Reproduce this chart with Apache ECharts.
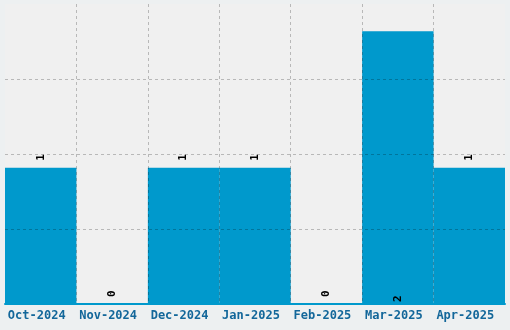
<!DOCTYPE html>
<html><head><meta charset="utf-8">
<script src="https://cdn.jsdelivr.net/npm/echarts@6/dist/echarts.min.js"></script>
<style>html,body{margin:0;padding:0;background:#edf0f1}#c{width:510px;height:330px}</style>
</head><body><div id="c"></div>
<script>
const categories = ["Oct-2024","Nov-2024","Dec-2024","Jan-2025","Feb-2025","Mar-2025","Apr-2025"];
const values = [1,0,1,1,0,2,1];
const insideBottomIdx = [5];

const chart = echarts.init(document.getElementById('c'), null, {renderer:'canvas'});
const data = values.map((v,i)=>{
  const d = {value:v};
  if (insideBottomIdx.includes(i)) d.label = {position:'insideBottom', distance:2};
  return d;
});
chart.setOption({
  backgroundColor:'#edf0f1',
  animation:false,
  grid:{left:5,right:5,top:4,bottom:26,show:true,backgroundColor:'#f0f0f0',borderWidth:0},
  xAxis:{type:'category',data:categories,z:5,
    axisLine:{show:true,lineStyle:{color:'#0099cc',width:2}},
    axisTick:{show:false},
    axisLabel:{color:'#13679a',fontFamily:'DejaVu Sans Mono',fontWeight:'bold',fontSize:12,margin:6,interval:0,padding:[0,8,0,0]},
    splitLine:{show:true,showMinLine:false,showMaxLine:false,lineStyle:{color:'rgba(0,0,0,0.23)',type:[3,3],width:1}}
  },
  yAxis:{type:'value',min:0,max:2.2,interval:0.55,z:5,
    axisLine:{show:false},axisTick:{show:false},axisLabel:{show:false},
    splitLine:{show:true,showMinLine:false,showMaxLine:false,lineStyle:{color:'rgba(0,0,0,0.23)',type:[3,3],width:1}}
  },
  series:[{type:'bar',data:data,barCategoryGap:'0%',itemStyle:{color:'#0099cc'},z:2,
    label:{show:true,position:'top',distance:7,rotate:90,align:'left',verticalAlign:'middle',
      color:'#000',fontFamily:'DejaVu Sans Mono',fontWeight:'bold',fontSize:11}
  }]
});
</script></body></html>
